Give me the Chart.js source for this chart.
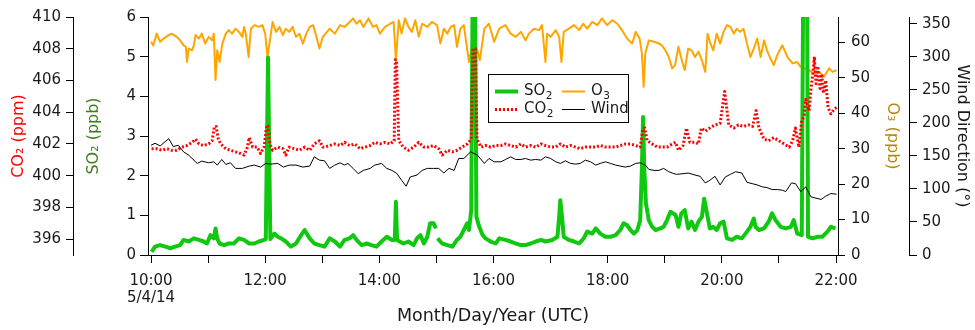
<!DOCTYPE html>
<html>
<head>
<meta charset="utf-8">
<title>SO2, CO2, O3 and wind, 5/4/14</title>
<script src="https://cdn.jsdelivr.net/npm/chart.js@4.4.1/dist/chart.umd.min.js"></script>
<style>
  html, body { margin: 0; padding: 0; background: #fff; }
  canvas { display: block; }
</style>
</head>
<body>
<canvas id="chart" width="975" height="330"></canvas>
<script>
// time is decimal hours UTC on 5/4/14
const o3Time = [
  10.00,10.04,10.10,10.16,10.22,10.31,10.36,10.45,10.51,10.57,
  10.61,10.63,10.66,10.72,10.75,10.78,10.84,10.89,10.95,11.01,
  11.07,11.10,11.13,11.16,11.20,11.25,11.31,11.36,11.42,11.48,
  11.54,11.60,11.63,11.66,11.71,11.75,11.81,11.89,11.95,12.00,
  12.04,12.13,12.19,12.25,12.31,12.36,12.42,12.48,12.54,12.60,
  12.66,12.72,12.78,12.84,12.89,12.95,13.01,13.13,13.22,13.31,
  13.39,13.48,13.54,13.60,13.66,13.72,13.81,13.89,13.95,14.01,
  14.10,14.19,14.25,14.29,14.34,14.39,14.45,14.51,14.57,14.63,
  14.69,14.75,14.84,14.92,15.01,15.07,15.13,15.19,15.25,15.31,
  15.36,15.42,15.48,15.57,15.63,15.72,15.76,15.84,15.92,16.01,
  16.10,16.21,16.30,16.39,16.48,16.56,16.62,16.71,16.80,16.85,
  16.91,16.94,17.00,17.09,17.15,17.19,17.23,17.32,17.41,17.50,
  17.57,17.64,17.73,17.82,17.90,17.99,18.08,18.17,18.25,18.34,
  18.43,18.49,18.56,18.60,18.63,18.66,18.72,18.81,18.90,18.95,
  19.01,19.07,19.13,19.18,19.24,19.29,19.35,19.41,19.47,19.53,
  19.59,19.65,19.71,19.75,19.79,19.85,19.91,19.97,20.03,20.09,
  20.15,20.21,20.26,20.32,20.38,20.44,20.50,20.56,20.62,20.68,
  20.74,20.79,20.85,20.91,20.97,21.06,21.15,21.24,21.32,21.38,
  21.44,21.53,21.62,21.71,21.79,21.88,21.94,22.01
];
const o3Ppb = [
  60.2,59.2,62.5,60.2,61.1,62.1,62.5,61.6,60.6,59.2,
  58.8,54.5,58.3,57.8,59.2,62.1,61.1,62.5,59.7,61.6,
  60.6,62.5,49.4,57.8,54.5,59.7,62.5,63.5,62.5,63.9,
  63.0,61.6,64.4,62.5,55.9,63.9,64.9,64.4,64.9,62.5,
  55.9,65.8,63.0,64.4,62.1,63.9,63.0,64.4,61.6,62.5,
  59.7,62.5,64.4,64.9,62.1,58.3,61.6,63.9,62.5,64.9,
  64.4,65.8,66.8,65.3,66.3,64.4,66.8,64.4,64.9,62.5,
  64.4,65.3,65.8,55.0,66.3,62.5,66.8,64.4,63.0,66.3,
  61.6,65.3,64.4,65.8,64.9,59.7,63.9,62.5,64.4,64.9,
  58.8,63.9,64.9,54.5,59.7,57.8,55.0,63.9,65.3,60.2,
  63.9,64.9,62.5,61.6,63.0,60.6,62.5,63.9,63.5,64.9,
  54.5,62.5,61.6,63.5,61.6,54.5,63.0,63.9,64.9,63.5,
  65.3,63.9,65.8,64.9,66.8,64.9,66.3,65.3,63.5,61.1,
  59.7,63.0,61.1,56.9,47.5,56.9,60.6,60.2,59.7,59.2,
  57.8,55.9,52.7,53.6,58.8,55.5,52.2,58.3,57.8,55.9,
  57.4,55.0,51.7,62.5,60.2,57.8,62.5,59.7,63.0,64.9,
  64.4,62.5,63.9,63.0,63.9,59.7,55.9,58.3,61.1,55.9,
  60.6,57.8,55.5,53.6,56.4,59.2,55.9,54.1,54.5,53.1,
  52.7,52.2,51.2,51.7,50.3,52.7,51.7,52.2
];

// null = gap in the SO2 record just after 15:00
const so2Time = [
  10.01,10.07,10.16,10.25,10.34,10.42,10.51,10.57,10.66,10.75,
  10.84,10.92,10.98,11.04,11.10,11.13,11.16,11.20,11.28,11.36,
  11.45,11.54,11.63,11.72,11.81,11.89,11.98,12.01,12.05,12.09,
  12.16,12.22,12.28,12.36,12.45,12.54,12.63,12.69,12.78,12.86,
  12.95,13.04,13.13,13.22,13.31,13.39,13.48,13.54,13.60,13.69,
  13.78,13.86,13.95,14.04,14.13,14.22,14.27,14.29,14.31,14.42,
  14.51,14.60,14.66,14.72,14.78,14.84,14.89,14.95,14.99,15.005,
  15.02,15.10,15.19,15.28,15.36,15.42,15.48,15.54,15.57,15.61,
  15.64,15.67,15.70,15.75,15.81,15.86,15.95,16.04,16.10,16.21,
  16.30,16.39,16.48,16.56,16.65,16.74,16.83,16.91,17.03,17.12,
  17.15,17.17,17.20,17.23,17.32,17.41,17.50,17.58,17.64,17.73,
  17.79,17.87,17.96,18.05,18.14,18.22,18.28,18.34,18.40,18.46,
  18.52,18.57,18.60,18.62,18.64,18.67,18.72,18.78,18.84,18.92,
  18.98,19.04,19.10,19.19,19.24,19.29,19.35,19.41,19.47,19.53,
  19.59,19.65,19.69,19.74,19.79,19.85,19.91,19.97,20.03,20.09,
  20.18,20.26,20.35,20.44,20.50,20.56,20.59,20.65,20.74,20.82,
  20.88,20.94,21.03,21.12,21.21,21.26,21.32,21.40,21.43,21.49,
  21.51,21.59,21.68,21.76,21.85,21.91,21.99
];
const so2Ppb = [
  0.08,0.21,0.25,0.21,0.17,0.21,0.25,0.38,0.34,0.42,
  0.38,0.34,0.29,0.50,0.42,0.67,0.42,0.29,0.25,0.29,
  0.29,0.42,0.38,0.29,0.29,0.34,0.38,0.40,4.98,0.40,
  0.54,0.46,0.42,0.34,0.21,0.29,0.50,0.63,0.42,0.29,
  0.25,0.21,0.42,0.34,0.21,0.38,0.42,0.50,0.38,0.25,
  0.29,0.25,0.21,0.34,0.46,0.38,0.38,1.34,0.38,0.29,
  0.34,0.25,0.42,0.50,0.29,0.46,0.80,0.80,0.67,null,
  0.42,0.29,0.25,0.21,0.38,0.46,0.63,0.80,0.63,1.13,
  8.0,8.0,0.96,0.71,0.50,0.42,0.34,0.29,0.42,0.38,
  0.34,0.29,0.25,0.25,0.29,0.34,0.38,0.34,0.38,0.46,
  0.96,1.38,0.96,0.46,0.38,0.34,0.29,0.42,0.59,0.54,
  0.67,0.54,0.46,0.46,0.50,0.63,0.80,0.75,0.63,0.54,
  0.63,0.88,2.2,3.48,2.2,1.30,0.88,0.71,0.63,0.67,
  0.71,0.88,1.09,1.01,0.71,1.05,1.13,0.67,0.84,0.63,
  0.84,0.96,1.42,1.05,0.67,0.71,0.63,0.80,0.84,0.42,
  0.38,0.46,0.42,0.59,0.71,0.92,0.71,0.63,0.67,0.84,
  1.05,0.88,0.71,0.67,0.71,0.88,0.54,0.50,8.0,8.0,
  0.46,0.42,0.46,0.46,0.59,0.71,0.67
];

const co2Time = [
  10.01,10.10,10.19,10.28,10.36,10.45,10.54,10.63,10.72,10.78,
  10.84,10.92,11.01,11.07,11.11,11.14,11.18,11.22,11.31,11.39,
  11.48,11.57,11.63,11.69,11.72,11.78,11.86,11.92,11.98,12.02,
  12.05,12.08,12.13,12.22,12.31,12.36,12.42,12.51,12.60,12.69,
  12.78,12.86,12.95,13.01,13.04,13.13,13.22,13.31,13.39,13.48,
  13.57,13.66,13.75,13.84,13.92,14.01,14.10,14.19,14.26,14.28,
  14.30,14.34,14.42,14.51,14.60,14.69,14.78,14.86,14.95,15.04,
  15.10,15.19,15.28,15.36,15.45,15.54,15.61,15.64,15.68,15.71,
  15.78,15.86,15.95,16.04,16.13,16.21,16.30,16.39,16.48,16.56,
  16.65,16.74,16.83,16.91,17.00,17.09,17.17,17.26,17.35,17.44,
  17.52,17.61,17.70,17.79,17.87,17.96,18.05,18.14,18.22,18.31,
  18.40,18.49,18.57,18.62,18.65,18.69,18.78,18.87,18.95,19.04,
  19.13,19.19,19.24,19.32,19.38,19.44,19.53,19.59,19.64,19.71,
  19.79,19.88,19.97,20.05,20.12,20.21,20.29,20.38,20.47,20.54,
  20.60,20.65,20.74,20.82,20.91,21.00,21.09,21.18,21.24,21.29,
  21.35,21.40,21.44,21.47,21.53,21.56,21.60,21.62,21.65,21.68,
  21.72,21.75,21.78,21.82,21.86,21.91,21.97,22.01
];
const co2Ppm = [
  401.7,401.7,401.6,401.7,401.6,401.6,401.8,401.9,402.1,402.3,
  402.0,401.9,402.0,402.2,403.1,403.1,402.3,402.0,401.7,401.6,
  401.5,401.4,401.3,401.8,402.4,401.8,401.8,401.4,401.8,403.0,
  403.2,402.0,401.6,401.8,401.7,401.3,401.8,401.7,401.6,401.8,
  401.6,402.0,402.2,401.8,401.8,401.9,402.0,401.9,402.1,401.9,
  402.0,401.7,401.8,401.9,402.1,402.0,402.1,402.0,402.2,407.3,
  407.3,402.2,401.8,401.6,401.8,402.1,401.8,401.8,401.9,401.7,
  401.3,401.6,401.5,401.6,401.8,402.0,402.3,408.0,408.0,402.3,
  401.8,401.9,401.8,401.9,401.9,402.0,401.9,401.8,402.0,401.8,
  401.9,401.8,402.0,401.9,401.8,401.8,402.0,401.8,401.9,401.8,
  401.7,401.8,401.8,401.8,401.9,401.8,401.8,401.8,401.9,402.0,
  402.0,401.9,401.8,403.0,403.0,402.2,402.0,401.8,401.8,401.8,
  402.0,402.1,401.6,401.9,403.0,402.1,402.1,402.0,403.0,402.8,
  403.0,403.2,403.3,405.3,403.2,403.0,403.2,403.1,403.2,403.1,
  404.1,403.0,402.3,402.2,402.4,402.2,402.0,401.8,402.2,403.0,
  401.8,403.5,403.7,404.8,404.1,405.4,406.6,407.5,405.8,406.9,
  405.5,406.4,405.2,406.0,404.3,403.9,404.2,404.3
];

const windTime = [
  10.00,10.07,10.16,10.31,10.39,10.48,10.57,10.66,10.81,10.89,
  11.01,11.10,11.16,11.24,11.31,11.39,11.48,11.60,11.72,11.81,
  11.92,12.01,12.10,12.22,12.32,12.42,12.54,12.66,12.78,12.86,
  12.95,13.04,13.13,13.22,13.31,13.39,13.45,13.54,13.63,13.72,
  13.84,13.92,14.04,14.13,14.22,14.31,14.39,14.47,14.54,14.66,
  14.75,14.84,14.95,15.04,15.13,15.22,15.31,15.39,15.48,15.60,
  15.72,15.84,15.92,16.01,16.13,16.21,16.30,16.39,16.48,16.56,
  16.65,16.74,16.83,16.91,17.00,17.09,17.17,17.26,17.35,17.44,
  17.52,17.61,17.70,17.79,17.87,17.96,18.05,18.14,18.22,18.31,
  18.40,18.49,18.57,18.66,18.72,18.81,18.90,18.98,19.07,19.16,
  19.21,19.32,19.41,19.53,19.62,19.71,19.79,19.88,19.97,20.06,
  20.15,20.24,20.35,20.44,20.53,20.62,20.71,20.79,20.88,20.97,
  21.06,21.12,21.22,21.29,21.38,21.47,21.56,21.65,21.74,21.82,
  21.91,22.01
];
const windDeg = [
  166,169,165,176,164,166,156,151,138.5,142,
  139.5,141,136,144.5,137,139.5,131,131,134.5,136,
  133,138.5,137.5,138.5,133,136,136,133,134.5,148.5,
  143.5,142.5,131,136,139.5,136,138.5,131,123,128,
  131,136,138.5,131,128,123,113,104,118,121,
  128,131,131,131,124,131,128,146,146,156,
  151,138.5,146,141,141,144.5,148.5,144.5,144.5,146,
  143.5,144.5,143.5,148.5,146,141,138.5,142.5,138.5,137.5,
  138.5,143.5,141,136,138.5,141,138.5,136,134.5,133,
  134.5,138.5,139.5,136,129.5,128,128,131,126,123,
  122,123,124,121,119,109,113,119,106,118,
  122,126,124,110,108,106,103,102,99,99,
  98,96,109,108,96,103,88,86,84,89,
  93,92
];

const hourTicks = [10, 11, 12, 13, 14, 15, 16, 17, 18, 19, 20, 21, 22];
const so2Ticks = [0, 1, 2, 3, 4, 5, 6];
const co2Ticks = [396, 398, 400, 402, 404, 406, 408, 410];
const o3Ticks = [0, 10, 20, 30, 40, 50, 60];
const windTicks = [0, 50, 100, 150, 200, 250, 300, 350];

const FONT = '"DejaVu Sans", sans-serif';
const INK = '#1a1a1a';

function pts(times, vals){
  return times.map((t, i) => ({ x: t, y: vals[i] }));
}

// y axis helper: fixed box width so the four axes sit where the original put them
function yAxis(opts){
  return {
    type: 'linear',
    position: opts.position,
    weight: opts.weight,
    min: opts.min,
    max: opts.max,
    afterBuildTicks: s => { s.ticks = opts.ticks.map(v => ({ value: v })); },
    afterFit: s => { s.width = opts.width; },
    ticks: { color: INK, padding: opts.pad, font: { size: 15 } },
    grid: { drawOnChartArea: false, tickLength: opts.tick, color: '#000' },
    border: { color: '#000', width: 1 },
    title: {
      display: true, text: opts.title, color: opts.titleColor,
      font: { size: 16 }, padding: { top: opts.titlePad, bottom: 0 }
    }
  };
}

// legend drawn inside the plot, two columns like the original
const legendBox = {
  id: 'legendBox',
  afterDraw(chart){
    const ctx = chart.ctx;
    const items = [
      { id: 'so2', base: 'SO', sub: '2', x: 495, y: 91.5 },
      { id: 'o3', base: 'O', sub: '3', x: 562, y: 91.5 },
      { id: 'co2', base: 'CO', sub: '2', x: 495, y: 109.5 },
      { id: 'wind', base: 'Wind', sub: '', x: 562, y: 109.5 }
    ];
    ctx.save();
    ctx.fillStyle = '#fff';
    ctx.fillRect(488.5, 74.5, 140, 48);
    ctx.strokeStyle = '#000';
    ctx.lineWidth = 1;
    ctx.strokeRect(488.5, 74.5, 140, 48);
    items.forEach(it => {
      const ds = chart.data.datasets.find(d => d.id === it.id);
      ctx.beginPath();
      ctx.strokeStyle = ds.borderColor;
      ctx.lineWidth = ds.borderWidth;
      ctx.setLineDash(ds.borderDash || []);
      ctx.lineCap = 'butt';
      ctx.moveTo(it.x, it.y);
      ctx.lineTo(it.x + 23, it.y);
      ctx.stroke();
      ctx.setLineDash([]);
      ctx.fillStyle = INK;
      ctx.textBaseline = 'middle';
      ctx.textAlign = 'left';
      ctx.font = '15px ' + FONT;
      const tx = it.x + 29;
      ctx.fillText(it.base, tx, it.y);
      if (it.sub) {
        const w = ctx.measureText(it.base).width;
        ctx.font = '10.5px ' + FONT;
        ctx.fillText(it.sub, tx + w + 0.5, it.y + 5);
      }
    });
    ctx.restore();
  }
};

Chart.defaults.font.family = FONT;

new Chart(document.getElementById('chart'), {
  type: 'line',
  data: {
    datasets: [
      { id: 'wind', label: 'Wind', data: pts(windTime, windDeg), yAxisID: 'wind',
        borderColor: '#000', borderWidth: 1, order: 0 },
      { id: 'co2', label: 'CO₂', data: pts(co2Time, co2Ppm), yAxisID: 'co2',
        borderColor: '#ff0000', borderWidth: 3, borderDash: [2, 2], order: 1 },
      { id: 'so2', label: 'SO₂', data: pts(so2Time, so2Ppb), yAxisID: 'so2',
        borderColor: '#10c810', borderWidth: 4, spanGaps: false, clip: 0, order: 2 },
      { id: 'o3', label: 'O₃', data: pts(o3Time, o3Ppb), yAxisID: 'o3',
        borderColor: '#ffa500', borderWidth: 2, order: 3 }
    ]
  },
  options: {
    responsive: false,
    animation: false,
    devicePixelRatio: 1,
    layout: { padding: { top: 17, right: 0, bottom: 0, left: 0 } },
    elements: {
      point: { radius: 0 },
      line: { tension: 0, fill: false, borderJoinStyle: 'round' }
    },
    plugins: {
      legend: { display: false },
      tooltip: { enabled: false }
    },
    scales: {
      x: {
        type: 'linear',
        position: 'bottom',
        min: 9.947,
        max: 22.035,
        afterBuildTicks: s => { s.ticks = hourTicks.map(v => ({ value: v })); },
        afterFit: s => { s.height = 75; },
        ticks: {
          autoSkip: false, maxRotation: 0, minRotation: 0, padding: 10,
          color: INK, font: { size: 15, lineHeight: 1.1 },
          callback: v => (v % 2 ? '' : (v === 10 ? ['10:00', '5/4/14'] : v + ':00'))
        },
        grid: { drawOnChartArea: false, tickLength: 8, color: '#000' },
        border: { color: '#000', width: 1 },
        title: {
          display: true, text: 'Month/Day/Year (UTC)', color: INK,
          font: { size: 17.5 }, padding: { top: 0, bottom: 3 }
        }
      },
      so2: yAxis({ position: 'left', weight: 0, min: 0, max: 6, ticks: so2Ticks,
        width: 75, tick: 8, pad: 4, title: 'SO₂ (ppb)', titleColor: '#3f7d1f', titlePad: 11 }),
      co2: yAxis({ position: 'left', weight: 1, min: 395, max: 410, ticks: co2Ticks,
        width: 73, tick: 7, pad: 5, title: 'CO₂ (ppm)', titleColor: '#ff0000', titlePad: 9 }),
      o3: yAxis({ position: 'right', weight: 0, min: 0, max: 67.2, ticks: o3Ticks,
        width: 71, tick: 7, pad: 6, title: 'O₃ (ppb)', titleColor: '#b8860b', titlePad: 7 }),
      wind: yAxis({ position: 'right', weight: 1, min: 0, max: 360, ticks: windTicks,
        width: 66, tick: 8, pad: 5, title: 'Wind Direction (°)', titleColor: INK, titlePad: 3 })
    }
  },
  plugins: [legendBox]
});
</script>
</body>
</html>
